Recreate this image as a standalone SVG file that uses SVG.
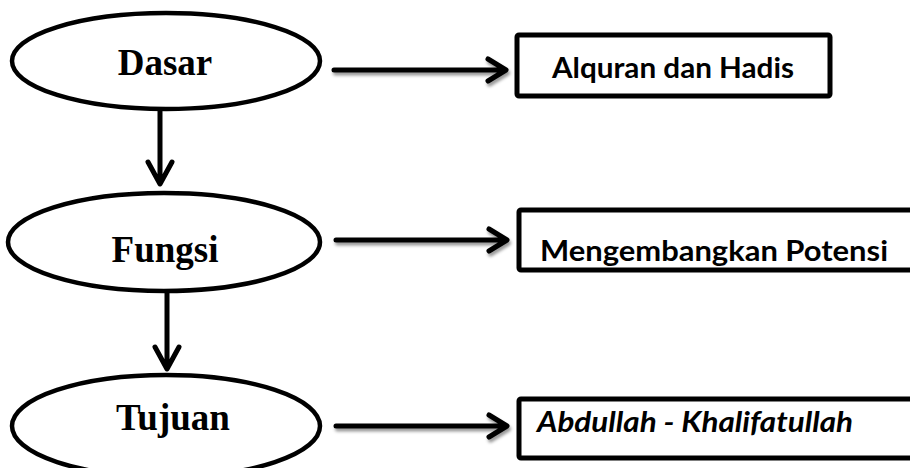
<svg xmlns="http://www.w3.org/2000/svg" width="910" height="468" viewBox="0 0 910 468">
<defs>
<style>
.ell{fill:#fff;stroke:#000;stroke-width:4.5}
.box{fill:#fff;stroke:#000;stroke-width:5}
.t1{font-family:"Liberation Serif","Times New Roman",serif;font-weight:bold;font-size:37px;fill:#000}
.t2{font-family:Lato,"Open Sans",sans-serif;font-weight:bold;font-size:29px;fill:#000}
.ar{fill:none;stroke:#000;stroke-width:5;stroke-linecap:round;stroke-linejoin:round}
</style>
<filter id="sh" x="-10%" y="-50%" width="120%" height="200%">
<feDropShadow dx="1.5" dy="3" stdDeviation="1.8" flood-color="#000" flood-opacity="0.4"/>
</filter>
</defs>
<rect width="910" height="468" fill="#fff"/>
<g id="connectors">
<g filter="url(#sh)">
<path class="ar" d="M334 70H505M488 59L506 70L488 81"/>
<path class="ar" d="M336 240H506M489 229L507 240L489 251"/>
<path class="ar" d="M336 426H506M489 415L507 426L489 437"/>
</g>
<path class="ar" d="M160 110V183M148 162L160 184L172 162"/>
<path class="ar" d="M167 293V368M155 347L167 369L179 347"/>
</g>
<g id="dasar">
<ellipse class="ell" cx="166" cy="61" rx="154" ry="48"/>
<text class="t1" x="165" y="75" text-anchor="middle">Dasar</text>
</g>
<g id="fungsi">
<ellipse class="ell" cx="164" cy="242" rx="156" ry="49"/>
<text class="t1" x="165" y="262" text-anchor="middle">Fungsi</text>
</g>
<g id="tujuan">
<ellipse class="ell" cx="166" cy="426" rx="154" ry="51"/>
<text class="t1" x="173" y="430" text-anchor="middle">Tujuan</text>
</g>
<g id="alquran">
<rect class="box" x="517" y="35" width="313" height="61" rx="2"/>
<text class="t2" x="552" y="78" textLength="242" lengthAdjust="spacingAndGlyphs">Alquran dan Hadis</text>
</g>
<g id="potensi">
<rect class="box" x="519" y="210" width="400" height="60" rx="2"/>
<text class="t2" x="540" y="261" textLength="348" lengthAdjust="spacingAndGlyphs">Mengembangkan Potensi</text>
</g>
<g id="abdullah">
<rect class="box" x="519" y="399" width="400" height="59" rx="2"/>
<text class="t2" x="537" y="432" font-style="italic" textLength="316" lengthAdjust="spacingAndGlyphs">Abdullah - Khalifatullah</text>
</g>
</svg>
